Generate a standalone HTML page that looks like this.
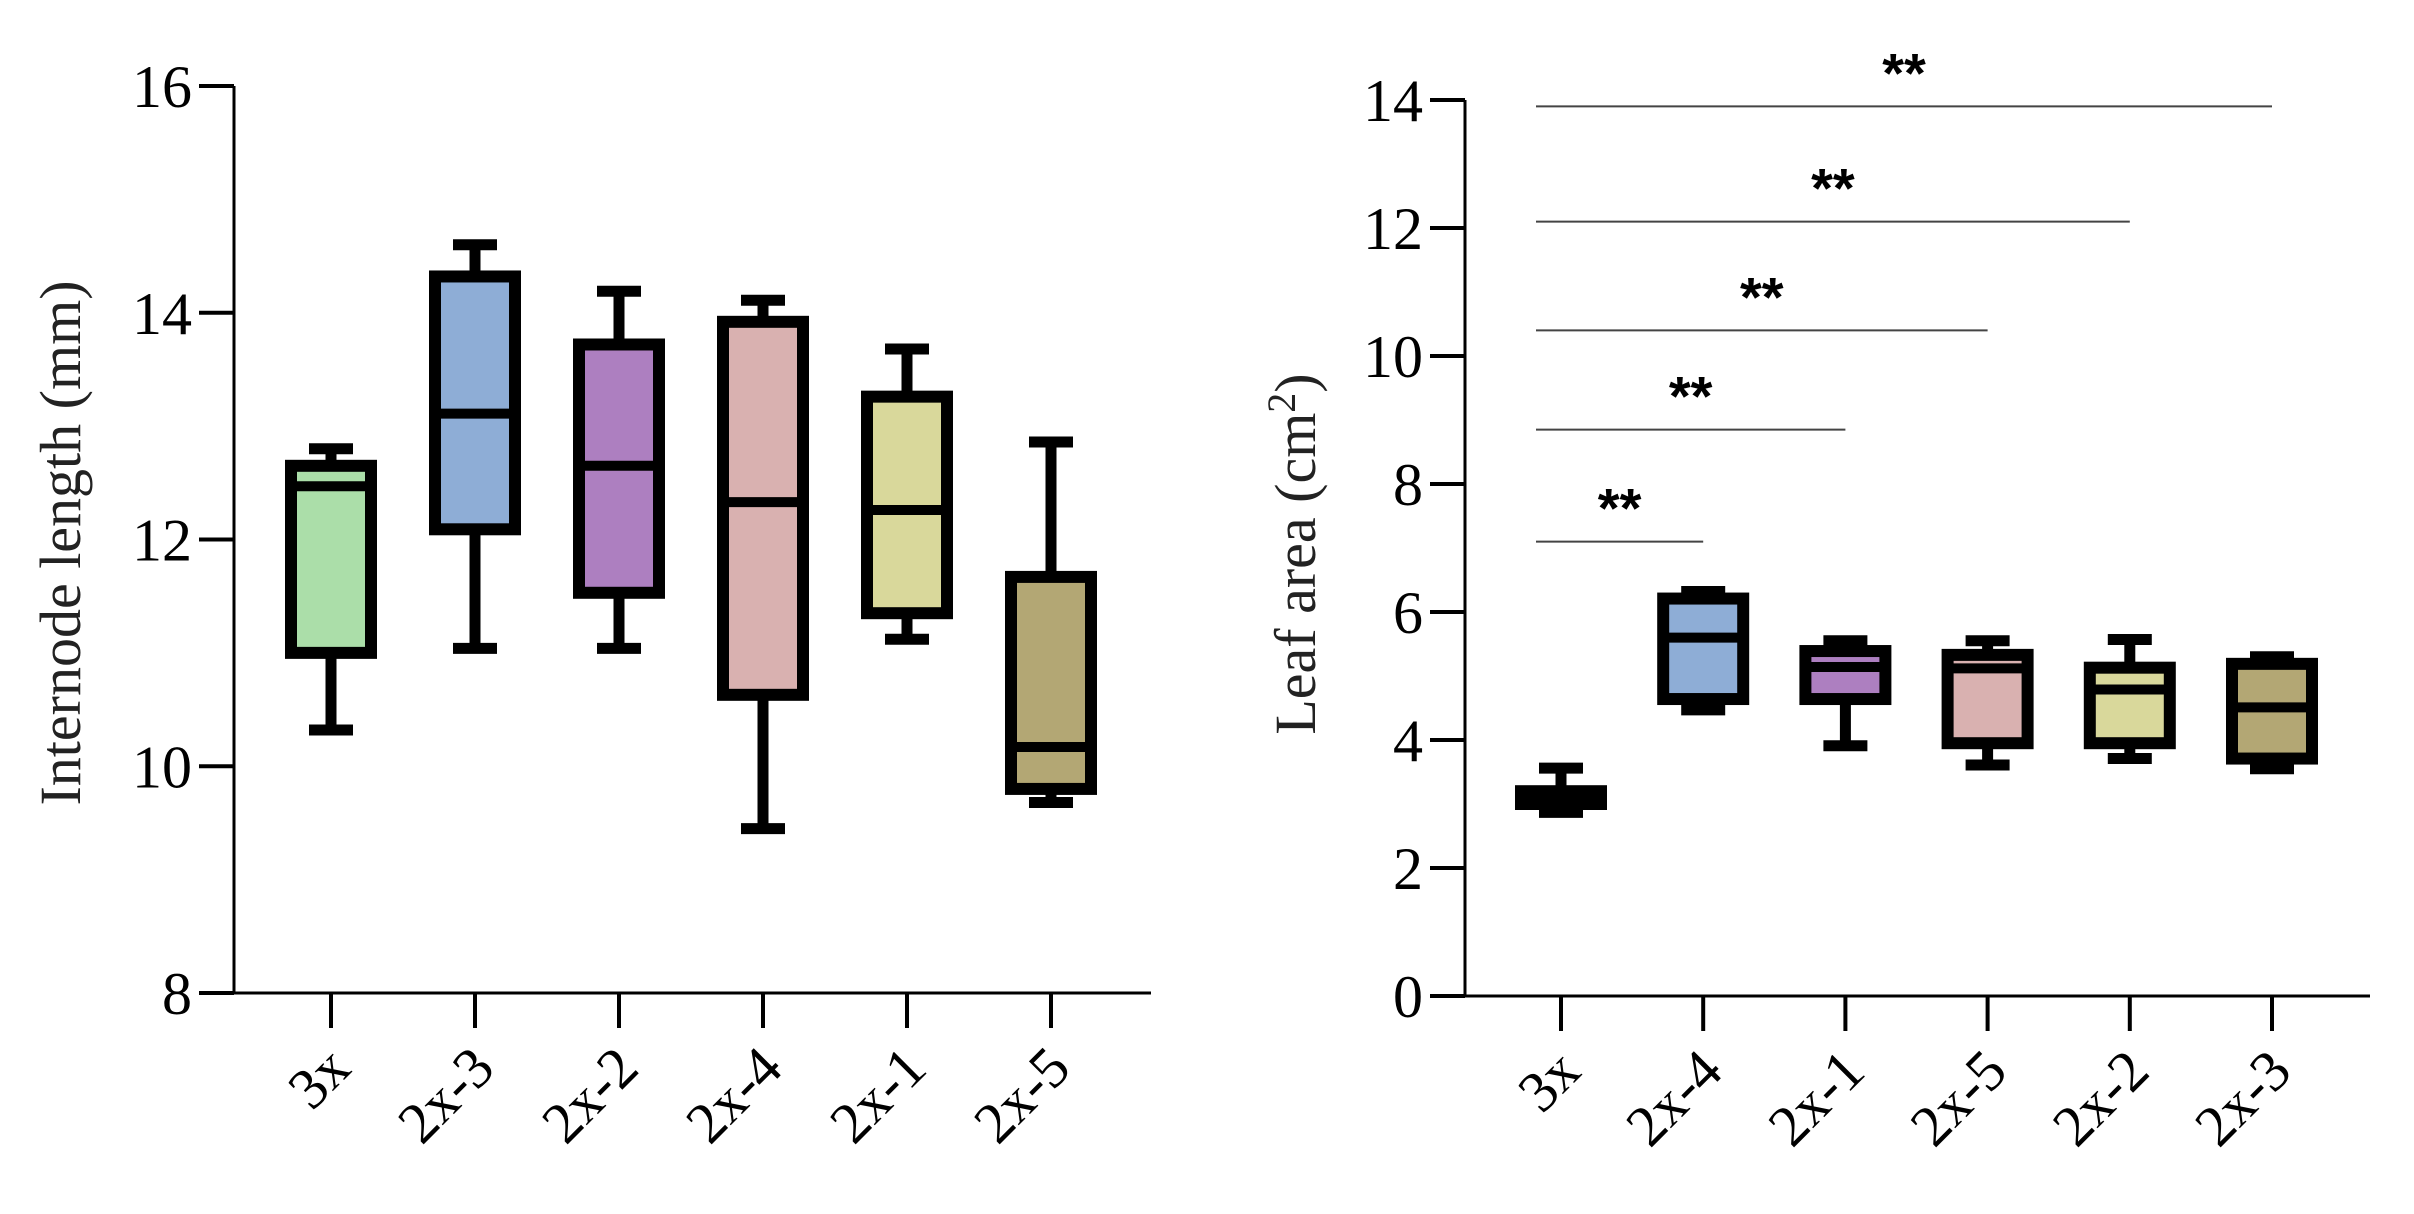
<!DOCTYPE html>
<html><head><meta charset="utf-8"><style>
html,body{margin:0;padding:0;background:#fff;}
svg{display:block;font-family:"Liberation Serif","Times New Roman",serif;}
</style></head><body>
<svg id="chart" width="2414" height="1214" viewBox="0 0 2414 1214"></svg>
<script>
const leftCats=["3x","2x-3","2x-2","2x-4","2x-1","2x-5"];
const leftMin=[10.32,11.04,11.04,9.45,11.12,9.68];
const leftQ1=[11.0,12.09,11.53,10.63,11.35,9.8];
const leftMed=[12.47,13.11,12.65,12.33,12.26,10.17];
const leftQ3=[12.65,14.32,13.72,13.92,13.26,11.67];
const leftMax=[12.8,14.6,14.19,14.11,13.68,12.86];
const leftTicks=[8,10,12,14,16];
const rightCats=["3x","2x-4","2x-1","2x-5","2x-2","2x-3"];
const rightMin=[2.87,4.47,3.91,3.61,3.71,3.55];
const rightQ1=[3.0,4.64,4.64,3.95,3.95,3.71];
const rightMed=[3.1,5.6,5.14,5.12,4.79,4.51];
const rightQ3=[3.2,6.21,5.39,5.33,5.13,5.19];
const rightMax=[3.56,6.32,5.55,5.55,5.57,5.3];
const rightTicks=[0,2,4,6,8,10,12,14];
const sigEnd=[1,2,3,4,5];
const sigLevel=[7.1,8.85,10.4,12.1,13.9];
const sigLabel=["**","**","**","**","**"];
const leftColors=["#abdea9","#8eadd6","#ad7fc0","#d9b1b0","#d9d89b","#b3a774"];
const rightColors=["#aaaaaa","#8eadd6","#ad7fc0","#d9b1b0","#d9d89b","#b3a774"];

const svg=document.getElementById('chart');
const NS="http://www.w3.org/2000/svg";
function mk(tag,attrs,parent){const e=document.createElementNS(NS,tag);for(const k in attrs)e.setAttribute(k,attrs[k]);(parent||svg).appendChild(e);return e;}

function panel(cfg){
  const g=mk('g',{});
  
  
  const y=v=>cfg.y0+(v-cfg.vmin)/(cfg.vmax-cfg.vmin)*(cfg.y1-cfg.y0);
  const x=i=>cfg.xStart+i*cfg.xStep;
  const ax=mk('path',{d:`M${cfg.axisX},${y(cfg.vmax)} L${cfg.axisX},${cfg.y0} L${cfg.xEnd},${cfg.y0}`,stroke:'#000','stroke-width':3,fill:'none'},g);
  
  
  cfg.ticks.forEach(t=>{
    const tk=mk('line',{x1:cfg.axisX-35,x2:cfg.axisX,y1:y(t),y2:y(t),stroke:'#000','stroke-width':4},g);
    
    
    const tl=mk('text',{x:cfg.axisX-42,y:y(t)+21,'text-anchor':'end','font-size':60},g);
    tl.textContent=t;
    
    
  });
  const yl=mk('text',{x:0,y:0,transform:`translate(${cfg.labelX},${cfg.labelY}) rotate(-90)`,'text-anchor':'middle','font-size':58,fill:'#222'},g);
  yl.innerHTML=cfg.label;
  
  
  cfg.cats.forEach((c,i)=>{
    const cx=x(i);
    const tk=mk('line',{x1:cx,x2:cx,y1:cfg.y0,y2:cfg.y0+35,stroke:'#000','stroke-width':4},g);
    
    
    const tl=mk('text',{x:0,y:0,transform:`translate(${cx+22},${cfg.y0+78}) rotate(-45)`,'text-anchor':'end','font-size':58},g);
    tl.textContent=c;
    
    
    const bg=mk('g',{},g);
    
    
    const w=mk('line',{x1:cx,x2:cx,y1:y(cfg.max[i]),y2:y(cfg.min[i]),stroke:'#000','stroke-width':11},bg);
    
    
    [cfg.max[i],cfg.min[i]].forEach(v=>{
      const cap=mk('line',{x1:cx-22,x2:cx+22,y1:y(v),y2:y(v),stroke:'#000','stroke-width':11},bg);
      
      
    });
    const top=y(cfg.q3[i]),bot=y(cfg.q1[i]);
    const r=mk('rect',{x:cx-40,y:top,width:80,height:Math.max(bot-top,1),fill:cfg.colors[i],stroke:'#000','stroke-width':12},bg);
    
    
    const m=mk('line',{x1:cx-40,x2:cx+40,y1:y(cfg.med[i]),y2:y(cfg.med[i]),stroke:'#000','stroke-width':10},bg);
    
    
  });
  return {y,x,g};
}

panel({name:'internode-chart',cats:leftCats,min:leftMin,q1:leftQ1,med:leftMed,q3:leftQ3,max:leftMax,ticks:leftTicks,colors:leftColors,
  vmin:8,vmax:16,y0:993,y1:86,axisX:234,xEnd:1151,xStart:331,xStep:144,label:'Internode length (mm)',labelX:80,labelY:543});
const R=panel({name:'leaf-area-chart',cats:rightCats,min:rightMin,q1:rightQ1,med:rightMed,q3:rightQ3,max:rightMax,ticks:rightTicks,colors:rightColors,
  vmin:0,vmax:14,y0:996,y1:100,axisX:1465,xEnd:2370,xStart:1561,xStep:142.2,label:'Leaf area (cm<tspan dy="-20" font-size="40">2</tspan><tspan dy="20">)</tspan>',labelX:1315,labelY:554});
sigEnd.forEach((e,k)=>{
  const yy=R.y(sigLevel[k]);
  const x1=R.x(0)-25,x2=R.x(e);
  const l=mk('line',{x1:x1,x2:x2,y1:yy,y2:yy,stroke:'#444','stroke-width':2},R.g);
  
  
  const t=mk('text',{x:(x1+x2)/2,y:yy-14,'text-anchor':'middle','font-size':56,'font-weight':'bold','font-family':'Liberation Sans, sans-serif'},R.g);
  t.textContent=sigLabel[k];
  
  
});
</script>
</body></html>
